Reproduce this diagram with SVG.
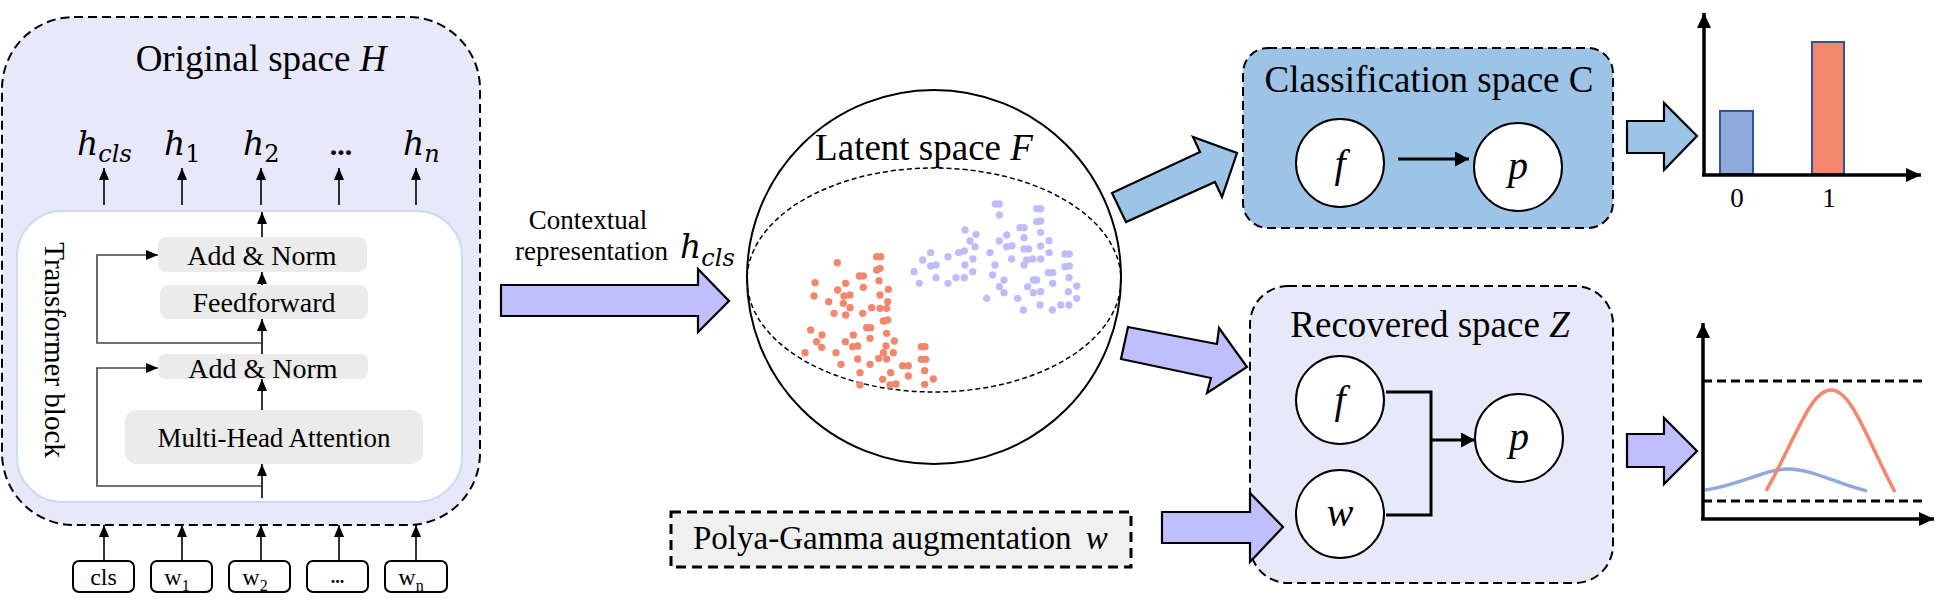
<svg xmlns="http://www.w3.org/2000/svg" width="1946" height="607" viewBox="0 0 1946 607">
<style>
.t{font-family:"Liberation Serif","Times New Roman",serif;fill:#000}
.m{font-family:"DejaVu Serif",serif;font-style:italic;fill:#000}
.i{font-style:italic}
.dash{stroke:#000;stroke-width:2;stroke-dasharray:9 5}
.gray{fill:#EBEBEB}
.thin{fill:none;stroke:#000;stroke-width:1.6}
.res{fill:none;stroke:#444;stroke-width:1.6}
.node{fill:#fff;stroke:#000;stroke-width:2}
.big{stroke:#000;stroke-width:2.2;stroke-linejoin:miter}
.lav{fill:#BFBFFF}
.sky{fill:#9DC3E6}
.pale{fill:#E8E8FB}
.r{fill:#F4866C}
.b{fill:#BDBDFB}
.axis{fill:none;stroke:#000;stroke-width:3.5}
</style>
<defs>
<marker id="ah" markerUnits="userSpaceOnUse" markerWidth="12" markerHeight="10" refX="12" refY="5" orient="auto"><path d="M0,0 L12,5 L0,10 z" fill="#000"/></marker>
<marker id="ahb" markerUnits="userSpaceOnUse" markerWidth="14" markerHeight="15" refX="14" refY="7.5" orient="auto"><path d="M0,0 L14,7.5 L0,15 z" fill="#000"/></marker>
<marker id="ax" markerUnits="userSpaceOnUse" markerWidth="15" markerHeight="14" refX="15" refY="7" orient="auto"><path d="M0,0 L15,7 L0,14 z" fill="#000"/></marker>
</defs>

<g id="original-space">
<rect x="2" y="17" width="478" height="508" rx="72" class="dash pale"/>
<text class="t" x="261" y="71" font-size="37" text-anchor="middle">Original space <tspan class="i">H</tspan></text>
<rect x="17" y="211" width="445" height="291" rx="45" fill="#fff" stroke="#CFDAF0" stroke-width="2"/>
<text class="t" font-size="29" transform="translate(45,350) rotate(90)" text-anchor="middle">Transformer block</text>
</g>

<g id="h-labels">
<text class="m" x="77" y="155" font-size="33">h<tspan font-size="24" dy="7">cls</tspan></text>
<text class="m" x="164" y="155" font-size="33">h<tspan font-size="24" dy="7" font-style="normal">1</tspan></text>
<text class="m" x="243" y="155" font-size="33">h<tspan font-size="24" dy="7" font-style="normal">2</tspan></text>
<text class="t" x="341" y="155" font-size="30" font-weight="bold" text-anchor="middle">...</text>
<text class="m" x="403" y="155" font-size="33">h<tspan font-size="24" dy="7">n</tspan></text>
</g>

<g id="add-norm-2">
<rect class="gray" x="158" y="237" width="209" height="35" rx="8"/>
<text class="t" x="262" y="265" font-size="28" text-anchor="middle">Add &amp; Norm</text>
</g>
<g id="feedforward">
<rect class="gray" x="160" y="285" width="208" height="34" rx="8"/>
<text class="t" x="264" y="312" font-size="28" text-anchor="middle">Feedforward</text>
</g>
<g id="add-norm-1">
<rect class="gray" x="158" y="354" width="210" height="25" rx="7"/>
<text class="t" x="263" y="378" font-size="28" text-anchor="middle">Add &amp; Norm</text>
</g>
<g id="multi-head-attention">
<rect class="gray" x="125" y="410" width="298" height="54" rx="12"/>
<text class="t" x="274" y="447" font-size="27" text-anchor="middle">Multi-Head Attention</text>
</g>

<g id="inputs">
<rect class="node" x="73" y="561" width="61" height="31" rx="6"/>
<text class="t" x="103.5" y="585" font-size="24" text-anchor="middle">cls</text>
<rect class="node" x="151" y="561" width="61" height="31" rx="6"/>
<text class="t" x="177" y="585" font-size="24" text-anchor="middle">w<tspan font-size="16" dy="6">1</tspan></text>
<rect class="node" x="229" y="561" width="61" height="31" rx="6"/>
<text class="t" x="255" y="585" font-size="24" text-anchor="middle">w<tspan font-size="16" dy="6">2</tspan></text>
<rect class="node" x="307" y="561" width="61" height="31" rx="6"/>
<text class="t" x="337.5" y="583" font-size="18" font-weight="bold" text-anchor="middle">...</text>
<rect class="node" x="385" y="561" width="62" height="31" rx="6"/>
<text class="t" x="411" y="585" font-size="24" text-anchor="middle">w<tspan font-size="16" dy="6">n</tspan></text>
</g>

<g id="contextual-label">
<text class="t" x="588" y="229" font-size="27" text-anchor="middle">Contextual</text>
<text class="t" x="515" y="260" font-size="27">representation</text>
<text class="m" x="680" y="258" font-size="33">h<tspan font-size="24" dy="8">cls</tspan></text>
</g>

<g id="latent-space">
<circle cx="934" cy="277" r="187" fill="#fff" stroke="#000" stroke-width="2"/>
<ellipse cx="934" cy="280" rx="187" ry="112" fill="none" stroke="#000" stroke-width="1.5" stroke-dasharray="5 3"/>
<text class="t" x="924" y="160" font-size="37" text-anchor="middle">Latent space <tspan class="i">F</tspan></text>
<g transform="translate(720,50) scale(0.33333)">
<g class="r">
<circle cx="470" cy="620" r="11"/><circle cx="482" cy="620" r="11"/><circle cx="352" cy="638" r="11"/><circle cx="470" cy="660" r="11"/><circle cx="480" cy="655" r="11"/><circle cx="418" cy="678" r="11"/><circle cx="430" cy="678" r="11"/><circle cx="285" cy="698" r="11"/><circle cx="377" cy="700" r="11"/><circle cx="353" cy="720" r="11"/><circle cx="430" cy="712" r="11"/><circle cx="477" cy="692" r="11"/><circle cx="505" cy="718" r="11"/><circle cx="282" cy="738" r="11"/><circle cx="372" cy="738" r="11"/><circle cx="390" cy="735" r="11"/><circle cx="480" cy="735" r="11"/><circle cx="326" cy="755" r="11"/><circle cx="370" cy="760" r="11"/><circle cx="390" cy="773" r="11"/><circle cx="503" cy="755" r="11"/><circle cx="455" cy="773" r="11"/><circle cx="480" cy="775" r="11"/><circle cx="500" cy="775" r="11"/><circle cx="342" cy="790" r="11"/><circle cx="377" cy="795" r="11"/><circle cx="428" cy="790" r="11"/><circle cx="490" cy="813" r="11"/><circle cx="503" cy="810" r="11"/><circle cx="272" cy="840" r="11"/><circle cx="440" cy="833" r="11"/><circle cx="452" cy="833" r="11"/><circle cx="306" cy="855" r="11"/><circle cx="400" cy="855" r="11"/><circle cx="500" cy="850" r="11"/><circle cx="290" cy="875" r="11"/><circle cx="376" cy="875" r="11"/><circle cx="398" cy="890" r="11"/><circle cx="413" cy="888" r="11"/><circle cx="450" cy="865" r="11"/><circle cx="523" cy="873" r="11"/><circle cx="305" cy="892" r="11"/><circle cx="498" cy="888" r="11"/><circle cx="255" cy="908" r="11"/><circle cx="348" cy="908" r="11"/><circle cx="490" cy="908" r="11"/><circle cx="520" cy="908" r="11"/><circle cx="413" cy="927" r="11"/><circle cx="476" cy="925" r="11"/><circle cx="500" cy="927" r="11"/><circle cx="604" cy="890" r="11"/><circle cx="615" cy="890" r="11"/><circle cx="363" cy="943" r="11"/><circle cx="450" cy="943" r="11"/><circle cx="548" cy="947" r="11"/><circle cx="565" cy="947" r="11"/><circle cx="604" cy="928" r="11"/><circle cx="617" cy="928" r="11"/><circle cx="420" cy="968" r="11"/><circle cx="512" cy="968" r="11"/><circle cx="614" cy="962" r="11"/><circle cx="565" cy="978" r="11"/><circle cx="488" cy="988" r="11"/><circle cx="640" cy="987" r="11"/><circle cx="420" cy="1005" r="11"/><circle cx="510" cy="1005" r="11"/><circle cx="528" cy="1002" r="11"/><circle cx="614" cy="1003" r="11"/>
</g>
<g class="b">
<circle cx="826" cy="462" r="11"/><circle cx="838" cy="462" r="11"/><circle cx="838" cy="495" r="11"/><circle cx="950" cy="476" r="11"/><circle cx="962" cy="476" r="11"/><circle cx="950" cy="515" r="11"/><circle cx="962" cy="513" r="11"/><circle cx="735" cy="540" r="11"/><circle cx="768" cy="553" r="11"/><circle cx="900" cy="533" r="11"/><circle cx="912" cy="533" r="11"/><circle cx="860" cy="555" r="11"/><circle cx="750" cy="573" r="11"/><circle cx="765" cy="590" r="11"/><circle cx="838" cy="573" r="11"/><circle cx="860" cy="590" r="11"/><circle cx="876" cy="587" r="11"/><circle cx="912" cy="563" r="11"/><circle cx="962" cy="547" r="11"/><circle cx="987" cy="572" r="11"/><circle cx="962" cy="588" r="11"/><circle cx="632" cy="608" r="11"/><circle cx="608" cy="630" r="11"/><circle cx="632" cy="648" r="11"/><circle cx="648" cy="645" r="11"/><circle cx="684" cy="620" r="11"/><circle cx="716" cy="608" r="11"/><circle cx="733" cy="603" r="11"/><circle cx="759" cy="627" r="11"/><circle cx="735" cy="645" r="11"/><circle cx="810" cy="608" r="11"/><circle cx="912" cy="597" r="11"/><circle cx="926" cy="597" r="11"/><circle cx="875" cy="627" r="11"/><circle cx="920" cy="630" r="11"/><circle cx="938" cy="627" r="11"/><circle cx="962" cy="627" r="11"/><circle cx="987" cy="608" r="11"/><circle cx="1035" cy="612" r="11"/><circle cx="1048" cy="612" r="11"/><circle cx="582" cy="665" r="11"/><circle cx="598" cy="700" r="11"/><circle cx="648" cy="683" r="11"/><circle cx="684" cy="700" r="11"/><circle cx="708" cy="683" r="11"/><circle cx="733" cy="683" r="11"/><circle cx="758" cy="665" r="11"/><circle cx="825" cy="645" r="11"/><circle cx="912" cy="645" r="11"/><circle cx="818" cy="675" r="11"/><circle cx="852" cy="690" r="11"/><circle cx="940" cy="690" r="11"/><circle cx="950" cy="690" r="11"/><circle cx="985" cy="668" r="11"/><circle cx="998" cy="668" r="11"/><circle cx="1035" cy="650" r="11"/><circle cx="1048" cy="648" r="11"/><circle cx="1047" cy="683" r="11"/><circle cx="998" cy="700" r="11"/><circle cx="838" cy="710" r="11"/><circle cx="852" cy="728" r="11"/><circle cx="923" cy="710" r="11"/><circle cx="940" cy="728" r="11"/><circle cx="962" cy="725" r="11"/><circle cx="1070" cy="708" r="11"/><circle cx="1045" cy="725" r="11"/><circle cx="800" cy="745" r="11"/><circle cx="893" cy="745" r="11"/><circle cx="960" cy="765" r="11"/><circle cx="910" cy="780" r="11"/><circle cx="997" cy="780" r="11"/><circle cx="1022" cy="765" r="11"/><circle cx="1047" cy="765" r="11"/><circle cx="1070" cy="745" r="11"/>
</g>
</g>
</g>

<g id="classification-space">
<rect x="1243" y="48" width="370" height="180" rx="25" class="dash sky"/>
<text class="t" x="1429" y="92" font-size="37" text-anchor="middle">Classification space C</text>
</g>
<g id="c-f"><circle class="node" cx="1340" cy="163" r="44"/><text class="t" font-style="italic" x="1340" y="177" font-size="40" text-anchor="middle">f</text></g>
<g id="c-p"><circle class="node" cx="1518" cy="167" r="44"/><text class="t" font-style="italic" x="1518" y="179" font-size="40" text-anchor="middle">p</text></g>

<g id="recovered-space">
<rect x="1250" y="286" width="363" height="297" rx="38" class="dash pale"/>
<text class="t" x="1430" y="337" font-size="37" text-anchor="middle">Recovered space <tspan class="i">Z</tspan></text>
</g>
<g id="z-f"><circle class="node" cx="1340" cy="400" r="44"/><text class="t" font-style="italic" x="1340" y="413" font-size="40" text-anchor="middle">f</text></g>
<g id="z-w"><circle class="node" cx="1340" cy="514" r="44"/><text class="t" font-style="italic" x="1340" y="526" font-size="40" text-anchor="middle">w</text></g>
<g id="z-p"><circle class="node" cx="1519" cy="438" r="44"/><text class="t" font-style="italic" x="1519" y="450" font-size="40" text-anchor="middle">p</text></g>

<g id="polya-gamma">
<rect x="671" y="512" width="460" height="55" fill="#F0F0F0" stroke="#000" stroke-width="3" stroke-dasharray="10 6"/>
<text class="t" x="693" y="549" font-size="33">Polya-Gamma augmentation <tspan class="i" dx="6">w</tspan></text>
</g>

<g id="bar-chart">
<rect x="1720" y="111" width="33" height="63" fill="#8FAADC" stroke="#2F5597" stroke-width="2"/>
<rect x="1812" y="42" width="32" height="132" fill="#F4886E" stroke="#2F5597" stroke-width="2"/>
<path class="axis" d="M1704,175 L1704,13" marker-end="url(#ax)"/>
<path class="axis" d="M1702,175 L1921,175" marker-end="url(#ax)"/>
<text class="t" x="1737" y="207" font-size="27" text-anchor="middle">0</text>
<text class="t" x="1829" y="207" font-size="27" text-anchor="middle">1</text>
</g>

<g id="curve-chart">
<path d="M1703,381 L1923,381 M1703,501 L1923,501" fill="none" stroke="#000" stroke-width="3" stroke-dasharray="9 5"/>
<path d="M1705,490 C1740,485 1765,469 1788,469 C1812,469 1840,485 1867,491" fill="none" stroke="#8FAADC" stroke-width="3.5"/>
<path d="M1766,491 C1795,440 1810,390 1831,390 C1852,390 1867,440 1895,492" fill="none" stroke="#F4866C" stroke-width="3.5"/>
<path class="axis" d="M1703,519 L1703,323" marker-end="url(#ax)"/>
<path class="axis" d="M1701,519 L1934,519" marker-end="url(#ax)"/>
</g>

<g id="connectors">
<g class="thin">
<path d="M104,205 L104,168" marker-end="url(#ah)"/>
<path d="M182,205 L182,168" marker-end="url(#ah)"/>
<path d="M261,205 L261,168" marker-end="url(#ah)"/>
<path d="M339,205 L339,168" marker-end="url(#ah)"/>
<path d="M416,205 L416,168" marker-end="url(#ah)"/>
<path d="M262,237 L262,212" marker-end="url(#ah)"/>
<path d="M262,285 L262,272" marker-end="url(#ah)"/>
<path d="M262,354 L262,319" marker-end="url(#ah)"/>
<path d="M262,410 L262,379" marker-end="url(#ah)"/>
<path d="M262,498 L262,464" marker-end="url(#ah)"/>
<path d="M104,561 L104,525" marker-end="url(#ah)"/>
<path d="M182,561 L182,525" marker-end="url(#ah)"/>
<path d="M261,561 L261,525" marker-end="url(#ah)"/>
<path d="M339,561 L339,525" marker-end="url(#ah)"/>
<path d="M416,561 L416,525" marker-end="url(#ah)"/>
</g>
<path class="res" d="M262,343 L97,343 L97,255 L158,255" marker-end="url(#ah)"/>
<path class="res" d="M262,486 L97,486 L97,368 L158,368" marker-end="url(#ah)"/>
<polygon class="big lav" points="501,285 698,285 698,269 729,301 698,332 698,316 501,316"/>
<polygon class="big sky" points="1112,193 1200,152 1193,137 1237,153 1222,197 1215,182 1126,222"/>
<polygon class="big lav" points="1128,327 1217,344 1219,328 1247,367 1207,393 1211,378 1121,359"/>
<polygon class="big lav" points="1162,512 1250,512 1250,493 1283,527 1250,562 1250,543 1162,543"/>
<polygon class="big sky" points="1627,121 1664,121 1664,103 1697,136 1664,170 1664,153 1627,153"/>
<polygon class="big lav" points="1627,434 1664,434 1664,418 1697,451 1664,484 1664,467 1627,467"/>
<path d="M1398,159 L1469,159" fill="none" stroke="#000" stroke-width="3" marker-end="url(#ahb)"/>
<path d="M1386,392 L1431,392 L1431,515 L1386,515" fill="none" stroke="#000" stroke-width="3"/>
<path d="M1431,440 L1475,440" fill="none" stroke="#000" stroke-width="3" marker-end="url(#ahb)"/>
</g>
</svg>
